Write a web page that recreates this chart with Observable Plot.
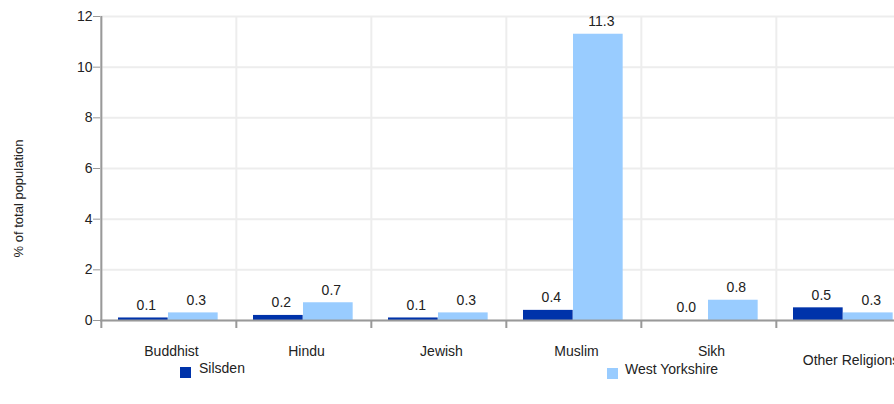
<!DOCTYPE html>
<html><head><meta charset="utf-8">
<script src="https://cdn.jsdelivr.net/npm/d3@7"></script>
<script src="https://cdn.jsdelivr.net/npm/@observablehq/plot@0.6"></script>
<style>
body{margin:0;background:#fff;font-family:"Liberation Sans",Arial,sans-serif;}
#wrap{position:relative;width:894px;height:404px;overflow:hidden;background:#fff;}
#chart{position:absolute;left:0;top:0;width:930px;}
#chart svg{max-width:none !important;}
#chart svg g[aria-label^="y-axis"] line, #chart svg g[aria-label="y-axis tick"]{stroke:#999;color:#999;}
.leg{position:absolute;font-size:14px;color:#222;white-space:nowrap;}
.sw{position:absolute;width:11px;height:11px;}
</style></head><body>
<div id="wrap"><div id="chart"></div><div id="legend"></div></div>
<script>
const categories = ["Buddhist", "Hindu", "Jewish", "Muslim", "Sikh", "Other Religions"];
const seriesNames = ["Silsden", "West Yorkshire"];
const silsden = [0.1, 0.2, 0.1, 0.4, 0.0, 0.5];
const westYorkshire = [0.3, 0.7, 0.3, 11.3, 0.8, 0.3];
const yTicks = [0, 2, 4, 6, 8, 10, 12];
const yLabel = "% of total population";
const colors = ["#0033aa", "#99ccff"];

const rows = [];
categories.forEach((c, i) => {
  rows.push({category: c, series: seriesNames[0], value: silsden[i]});
  rows.push({category: c, series: seriesNames[1], value: westYorkshire[i]});
});
const sRows = rows.filter(d => d.series === seriesNames[0]);
const wRows = rows.filter(d => d.series === seriesNames[1]);

const W = 930, ML = 100, MR = 18;
const step = (W - ML - MR) / categories.length;
const barW = 50, off = 17;

const plot = Plot.plot({
  width: W, height: 360,
  marginLeft: ML, marginRight: MR, marginTop: 16, marginBottom: 40,
  style: {fontFamily: '"Liberation Sans", Arial, sans-serif', fontSize: "14px", color: "#222", background: "white", maxWidth: "none", overflow: "visible"},
  x: {domain: categories, padding: 0, axis: null},
  y: {domain: [0, 12], ticks: yTicks, tickSize: 7, tickPadding: 1, label: null, tickFormat: d => String(d)},
  marks: [
    Plot.ruleY(yTicks, {y: d => d, stroke: "#ededed", strokeWidth: 2}),
    Plot.ruleX(categories, {x: d => d, dx: -step / 2, stroke: "#ededed", strokeWidth: 2}),
    Plot.barY(sRows, {x: "category", y: "value", fill: colors[0], insetLeft: off, insetRight: step - off - barW}),
    Plot.barY(wRows, {x: "category", y: "value", fill: colors[1], insetLeft: off + barW, insetRight: step - off - 2 * barW}),
    Plot.ruleY([0], {y: d => d, stroke: "#999", strokeWidth: 2}),
    Plot.ruleX([categories[0]], {x: d => d, dx: -step / 2, stroke: "#999", strokeWidth: 2}),
    Plot.ruleX(categories, {x: d => d, dx: -step / 2, y1: 0, y2: 0, insetBottom: -8, stroke: "#999", strokeWidth: 2}),
    Plot.text(sRows, {x: "category", y: "value", text: d => d.value.toFixed(1), dx: off + barW / 2 - step / 2 + 3, dy: -12.5, fill: "#222", fontSize: 14}),
    Plot.text(wRows, {x: "category", y: "value", text: d => d.value.toFixed(1), dx: off + 1.5 * barW - step / 2 + 3, dy: -12.5, fill: "#222", fontSize: 14}),
    Plot.text(categories.slice(0, 5), {x: d => d, y: 0, text: d => d, dy: 31, dx: 2.5, fill: "#222", fontSize: 14}),
    Plot.text(categories.slice(5), {x: d => d, y: 0, text: d => d, dy: 40, dx: 7, fill: "#222", fontSize: 14}),
    Plot.text([yLabel], {frameAnchor: "left", textAnchor: "middle", text: d => d, rotate: -90, dx: -82, dy: 30, fill: "#222", fontSize: 13})
  ]
});
document.getElementById("chart").appendChild(plot);

const legend = document.getElementById("legend");
const legPos = [{sx: 180, sy: 367, tx: 199}, {sx: 607, sy: 368, tx: 625}];
seriesNames.forEach((name, i) => {
  const sw = document.createElement("div");
  sw.className = "sw";
  sw.style.left = legPos[i].sx + "px";
  sw.style.top = legPos[i].sy + "px";
  sw.style.background = colors[i];
  legend.appendChild(sw);
  const t = document.createElement("div");
  t.className = "leg";
  t.style.left = legPos[i].tx + "px";
  t.style.top = (legPos[i].sy - 7) + "px";
  t.textContent = name;
  legend.appendChild(t);
});
</script>
</body></html>
